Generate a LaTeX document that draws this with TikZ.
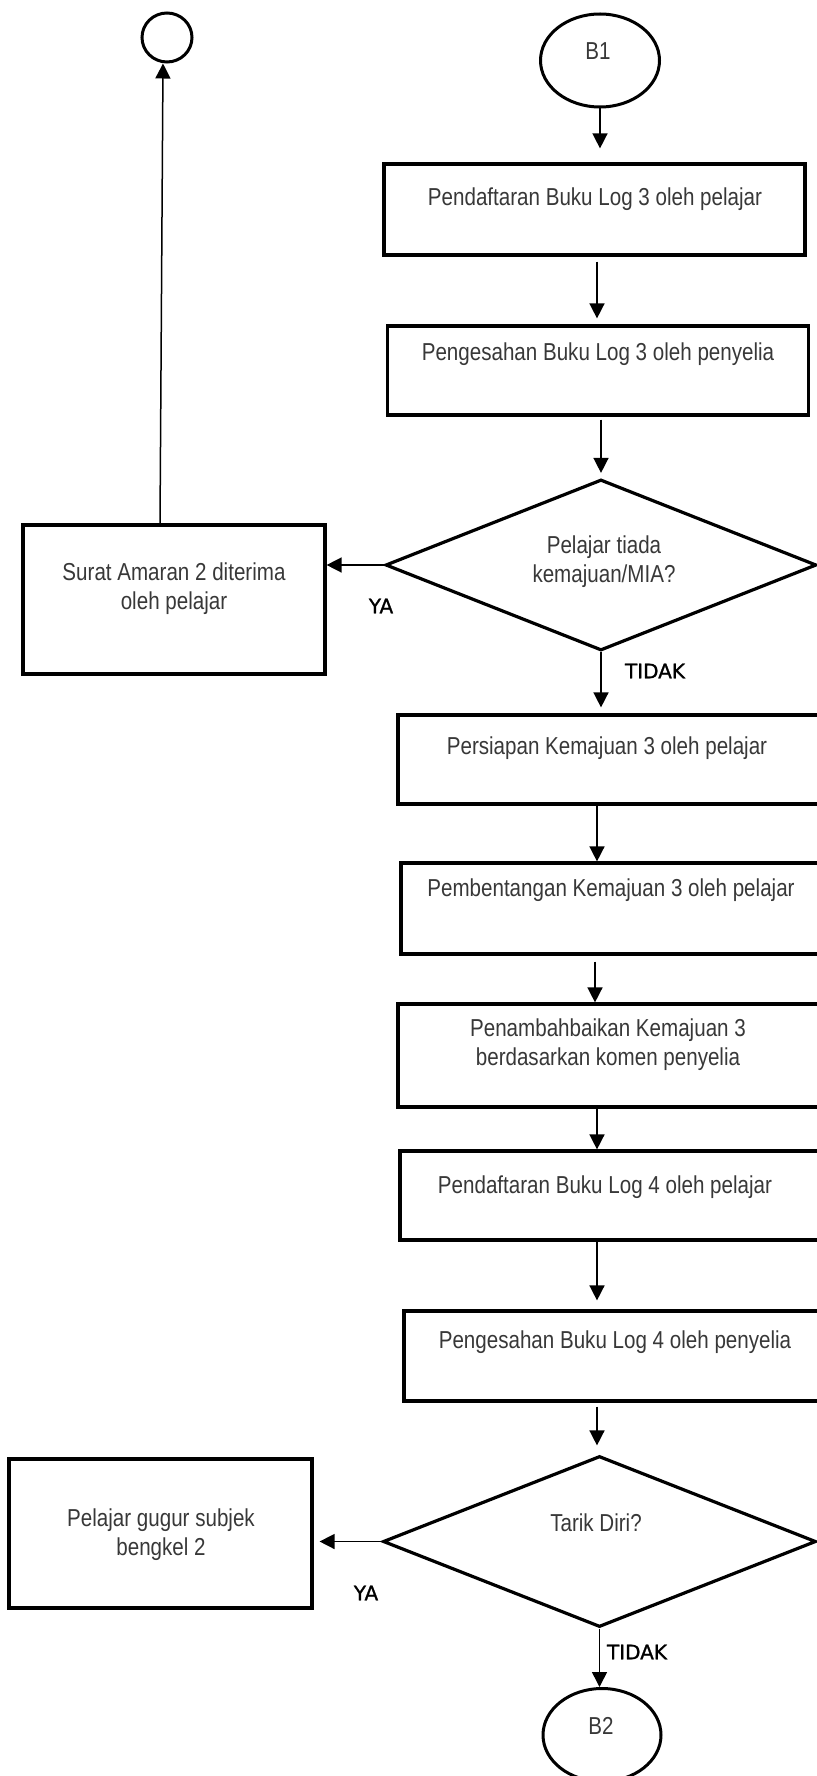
\documentclass[tikz,border=0pt]{standalone}
\usepackage{fontspec}
\setmainfont{Liberation Sans}[FakeStretch=0.84]
\newfontfamily\lblfont{DejaVu Sans}[FakeBold=1.2]
\usetikzlibrary{shapes.geometric,arrows.meta,calc}
\begin{document}
\begin{tikzpicture}[x=1pt,y=-1pt,
  box/.style={draw, line width=3.2pt, rectangle, inner sep=0pt},
  dec/.style={draw, line width=3.2pt, diamond, inner sep=0pt},
  term/.style={draw, line width=3pt, ellipse, inner sep=0pt},
  txt/.style={font=\fontsize{24.5}{29}\selectfont, text=black!78, align=center, inner sep=0pt},
  txtone/.style={txt, text height=17pt, text depth=5pt},
  lbl/.style={font=\lblfont\fontsize{20}{24}\selectfont, inner sep=0pt},
  arr/.style={line width=1.5pt, -{Triangle[length=15pt,width=15pt]}},
]
\useasboundingbox (0,0) rectangle (816,1776);

% shapes
\node[term, minimum width=50pt, minimum height=49pt] (c0) at (167,37.5) {};
\node[term, minimum width=119pt, minimum height=93pt] (b1) at (600,60.5) {};
\node[box, minimum width=421pt, minimum height=91pt] (box1) at (594.5,209.5) {};
\node[box, minimum width=421pt, minimum height=89pt] (box2) at (598,370.5) {};
\node[dec, minimum width=431pt, minimum height=171pt] (d1) at (601,565) {};
\node[box, minimum width=302pt, minimum height=149pt] (surat) at (174,599.5) {};
\node[box, minimum width=422pt, minimum height=89pt] (pers) at (609,759.5) {};
\node[box, minimum width=419pt, minimum height=91pt] (pemb) at (610.5,908.5) {};
\node[box, minimum width=422pt, minimum height=103pt] (pen) at (609,1055.5) {};
\node[box, minimum width=420pt, minimum height=89pt] (pd4) at (610,1195.5) {};
\node[box, minimum width=416pt, minimum height=90pt] (ps4) at (612,1356) {};
\node[dec, minimum width=433pt, minimum height=171pt] (d2) at (599.5,1541.5) {};
\node[box, minimum width=303pt, minimum height=149pt] (gugur) at (160.5,1533.5) {};
\node[term, minimum width=118pt, minimum height=93pt] (b2) at (602,1735) {};

% texts
\node[txtone] (tb1) at (598,54) {B1};
\node[txtone] (t1) at (595,200) {Pendaftaran Buku Log 3 oleh pelajar};
\node[txtone] (t2) at (598,354) {Pengesahan Buku Log 3 oleh penyelia};
\node[txt] (t3) at (604,562) {Pelajar tiada\\kemajuan/MIA?};
\node[txt] (t4) at (174,589) {Surat Amaran 2 diterima\\oleh pelajar};
\node[txtone] (t5) at (607,748) {Persiapan Kemajuan 3 oleh pelajar};
\node[txtone] (t6) at (611,890) {Pembentangan Kemajuan 3 oleh pelajar};
\node[txt] (t7) at (608,1045) {Penambahbaikan Kemajuan 3\\berdasarkan komen penyelia};
\node[txtone] (t8) at (605,1187) {Pendaftaran Buku Log 4 oleh pelajar};
\node[txtone] (t9) at (615,1342) {Pengesahan Buku Log 4 oleh penyelia};
\node[txtone] (t10) at (596,1525) {Tarik Diri?};
\node[txt] (t11) at (161,1535) {Pelajar gugur subjek\\bengkel 2};
\node[txtone] (tb2) at (601,1728) {B2};

% labels
\node[lbl] (ya1) at (381,606) {YA};
\node[lbl] (tidak1) at (655,671) {TIDAK};
\node[lbl] (ya2) at (366,1593) {YA};
\node[lbl] (tidak2) at (637,1652) {TIDAK};

% connectors
\coordinate (col) at (597,0);
\coordinate (colb) at (595,0);
\draw[arr, shorten >=14pt] (b1.south) -- (b1.south |- box1.north);
\draw[arr, shorten <=5pt, shorten >=6pt] (box1.south -| col) -- (box2.north -| col);
\draw[arr, shorten <=3pt, shorten >=5pt] (box2.south -| d1.north) -- (d1.north);
\draw[arr] (d1.west) -- (d1.west -| surat.east);
\draw[arr] ([xshift=-14pt]surat.north) -- ([xshift=-4pt]c0.south);
\draw[arr, shorten >=6pt] (d1.south) -- (d1.south |- pers.north);
\draw[arr] (pers.south -| col) -- (pemb.north -| col);
\draw[arr, shorten <=6pt] (pemb.south -| colb) -- (pen.north -| colb);
\draw[arr] (pen.south -| col) -- (pd4.north -| col);
\draw[arr, shorten >=9pt] (pd4.south -| col) -- (ps4.north -| col);
\draw[arr, shorten <=4pt, shorten >=9pt] (ps4.south -| col) -- (d2.north -| col);
\draw[arr, shorten >=6pt] (d2.west) -- (d2.west -| gugur.east);
\draw[arr] (d2.south) -- (d2.south |- b2.north);
\end{tikzpicture}
\end{document}
